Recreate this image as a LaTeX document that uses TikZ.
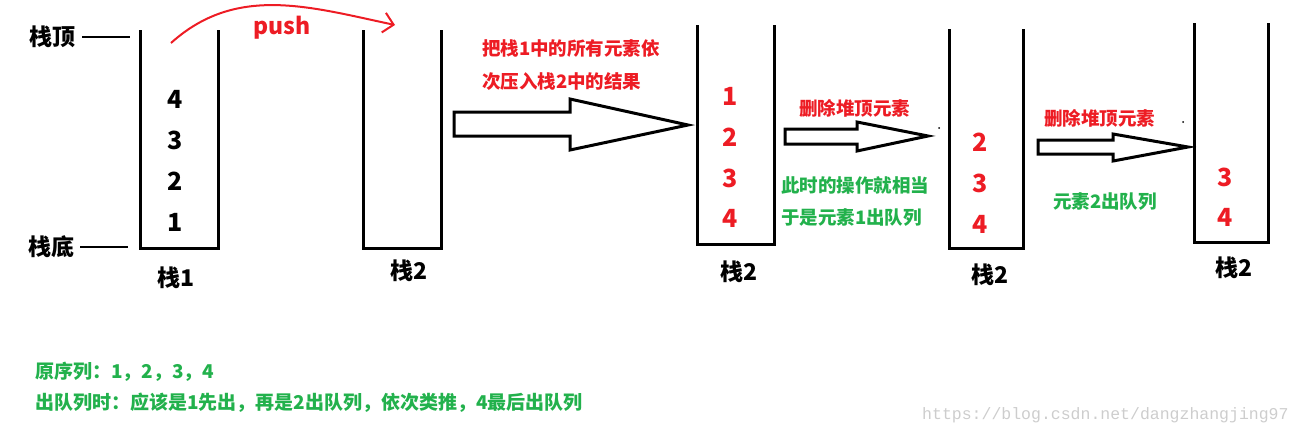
\documentclass[tikz,border=0pt]{standalone}
\usepackage{fontspec}
\setmainfont{Noto Sans CJK SC}
\newfontfamily\wmfont{Liberation Mono}
\usetikzlibrary{arrows.meta}
\usetikzlibrary{positioning}
\definecolor{pred}{RGB}{237,28,36}
\definecolor{pgreen}{RGB}{34,177,76}
\definecolor{wmgray}{RGB}{205,205,205}

\begin{document}
\begin{tikzpicture}[x=1pt, y=-1pt,
  stk/.style = {line width=3pt},
  hollow/.style = {line width=3pt, line join=miter},
  num/.style = {inner sep=0pt, font=\fontsize{25}{28}\selectfont\bfseries},
  lbl/.style = {inner sep=0pt, font=\fontsize{23}{26}\selectfont\bfseries},
  note/.style = {inner sep=0pt, anchor=west, font=\fontsize{18.5}{22}\selectfont\bfseries}]
		\useasboundingbox (0,0) rectangle (1303,437);
		% stack 1
		\draw[stk] (140,30) |- (218,248) -- (218,30);
		\node[lbl] (top) at (52,37) {栈顶};
		\node[lbl] (bottom) at (51,247) {栈底};
		\coordinate (topend) at (130,37);
		\coordinate (bottomend) at (128,247);
		\draw[line width=2.5pt] (82,37) -- (topend);
		\draw[line width=2.5pt] (80,247) -- (bottomend);
		\node[num] (a4) at (175,99) {4};
		\node[num] (a3) at (175,140) {3};
		\node[num] (a2) at (175,181) {2};
		\node[num] (a1) at (175,222) {1};
		\node[lbl] (s1) at (176,278) {栈1};
		% stack 2
		\draw[stk] (363,30) |- (441,248) -- (441,30);
		\node[lbl] (s2) at (409,271) {栈2};
		\coordinate (pushfrom) at (171,43);
		\coordinate (pushto) at (395,25);
		\draw[pred, line width=2pt, -{Straight Barb[length=10pt,width=20pt]}] (pushfrom) to[out=42, in=168] (pushto);
		\node[inner sep=0pt, text=pred, font=\fontsize{23}{26}\selectfont\bfseries] (push) at (282,28) {push};
		% move all
		\draw[hollow] (454,112) -- (570,112) -- (570,99) -- (688,125) -- (570,150) -- (570,136) -- (454,136) -- cycle;
		\node[note, text=pred] (m1) at (482,48) {把栈1中的所有元素依};
		\node[note, text=pred] (m2) at (482,82) {次压入栈2中的结果};
		% stack 3
		\draw[stk] (697,25) |- (774,244) -- (774,25);
		\node[num, text=pred] (b1) at (730,96) {1};
		\node[num, text=pred] (b2) at (730,137) {2};
		\node[num, text=pred] (b3) at (730,178) {3};
		\node[num, text=pred] (b4) at (730,218) {4};
		\node[lbl] (s3) at (739,272) {栈2};
		\draw[hollow] (785,129) -- (857,129) -- (857,122) -- (928,136) -- (857,151) -- (857,144) -- (785,144) -- cycle;
		\fill (939,128) circle (1pt);
		\node[note, text=pred] (d1) at (799,108) {删除堆顶元素};
		\node[note, text=pgreen] (g1) at (781,185) {此时的操作就相当};
		\node[note, text=pgreen] (g2) at (781,218) {于是元素1出队列};
		% stack 4
		\draw[stk] (949,29) |- (1023,248) -- (1023,29);
		\node[num, text=pred] (c2) at (980,142) {2};
		\node[num, text=pred] (c3) at (980,183) {3};
		\node[num, text=pred] (c4) at (980,224) {4};
		\node[lbl] (s4) at (990,275) {栈2};
		\draw[hollow] (1038,140) -- (1113,140) -- (1113,134) -- (1188,147) -- (1113,161) -- (1113,154) -- (1038,154) -- cycle;
		\fill (1183,122) circle (1pt);
		\node[note, text=pred] (d2) at (1044,118) {删除堆顶元素};
		\node[note, text=pgreen] (g3) at (1053,202) {元素2出队列};
		% stack 5
		\draw[stk] (1194,23) |- (1268,242) -- (1268,23);
		\node[num, text=pred] (e3) at (1225,177) {3};
		\node[num, text=pred] (e4) at (1225,217) {4};
		\node[lbl] (s5) at (1234,268) {栈2};
		% bottom notes
		\node[note, text=pgreen, font=\fontsize{19}{22}\selectfont\bfseries] (seq) at (35,372) {原序列：1，2，3，4};
		\node[note, text=pgreen, font=\fontsize{19}{22}\selectfont\bfseries] (out) at (35,403) {出队列时：应该是1先出，再是2出队列，依次类推，4最后出队列};
		\node[inner sep=0pt, anchor=west, text=wmgray, font=\wmfont\fontsize{16.5}{20}\selectfont] (wm) at (922,415) {https://blog.csdn.net/dangzhangjing97};
	\end{tikzpicture}
\end{document}
